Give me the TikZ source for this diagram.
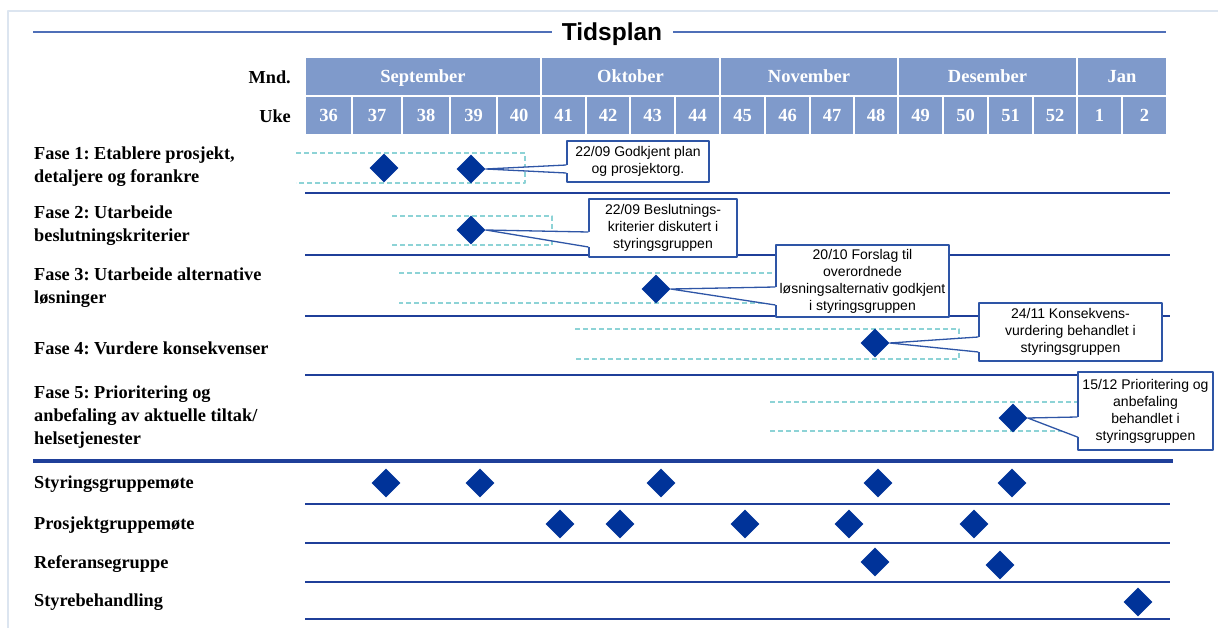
\documentclass[tikz,border=0pt]{standalone}
\usepackage{fontspec}
\setmainfont{Liberation Serif}
\newfontfamily\notefont{Liberation Sans}
\usetikzlibrary{shapes.geometric,calc,positioning}
\frenchspacing

\definecolor{hdrblue}{HTML}{7F9ACB}
\definecolor{diablue}{HTML}{003399}
\definecolor{rowline}{HTML}{1F3F99}
\definecolor{boxblue}{HTML}{2E55A6}
\definecolor{dashteal}{HTML}{8DD3D6}
\definecolor{framegray}{HTML}{DCE5F0}
\definecolor{titleline}{HTML}{4F6FB8}

\begin{document}
\begin{tikzpicture}[
    line join=round, x=1pt, y=-1pt,
    hdr/.style={fill=hdrblue, text=white, font=\bfseries\fontsize{18.5}{18.5}\selectfont, inner sep=0pt,
        minimum height=37pt, text height=12.5pt, text depth=0pt},
    rowlbl/.style={anchor=west, align=left, font=\bfseries\fontsize{18.3}{23}\selectfont, inner sep=0pt},
    mstone/.style={diamond, fill=diablue, minimum width=29pt, minimum height=29pt, inner sep=0pt},
    callbox/.style={draw=boxblue, line width=1.3pt, fill=white, align=center, font=\notefont\fontsize{14}{17}\selectfont, inner sep=2pt},
    spanbox/.style={draw=dashteal, line width=1.1pt, dash pattern=on 5pt off 3pt},
    rowsep/.style={draw=rowline, line width=1.4pt}
  ]
  % ---- helpers ----
  \newcommand{\pointer}[4]{% milestone, box, upper offset, lower offset
    \fill[white] (#1.east) -- ($(#2.west)+(1.6,#3)$) -- ($(#2.west)+(1.6,#4)$) -- cycle;
    \draw[boxblue, line width=1.3pt] ($(#2.west)+(0,#3)$) -- (#1.east) -- ($(#2.west)+(0,#4)$);
  }

  \useasboundingbox (0,0) rectangle (1218,628);
  \draw[framegray, line width=2pt] (8,11) rectangle (1240,650);

  %==================== TITLE ====================
  \node[font=\notefont\bfseries\fontsize{24.5}{24.5}\selectfont, inner sep=0pt] (title) at (612,34) {Tidsplan};
  \draw[titleline, line width=1.5pt] (33,32) -- (552,32);
  \draw[titleline, line width=1.5pt] (673,32) -- (1166,32);

  %==================== HEADER ====================
  \node[rowlbl, anchor=east] (mnd) at (291,77) {Mnd.};
  \node[rowlbl, anchor=east] (uke) at (291,116) {Uke};

  \foreach \a/\b/\m in {305/541/September, 541/720/Oktober, 720/898/November, 898/1077/Desember, 1077/1167/Jan} {
      \pgfmathsetmacro\cw{\b-\a-2}
      \node[hdr, minimum width=\cw pt] (m\m) at ({(\a+\b)/2},76.5) {\m};
    }

  \foreach \a/\b/\w in {305/352/36, 352/402/37, 402/450/38, 450/497/39, 497/541/40,
      541/586/41, 586/630/42, 630/675/43, 675/720/44, 720/765/45, 765/810/46,
      810/854/47, 854/898/48, 898/943/49, 943/988/50, 988/1033/51, 1033/1077/52,
      1077/1122/1, 1122/1167/2} {
      \pgfmathsetmacro\cw{\b-\a-2}
      \node[hdr, minimum width=\cw pt] (w\w) at ({(\a+\b)/2},115.5) {\w};
    }

  %==================== PHASES ====================
  \node[rowlbl] (f1) at (34,167) {Fase 1: Etablere prosjekt,\\detaljere og forankre};
  \node[rowlbl] (f2) at (34,226) {Fase 2: Utarbeide\\beslutningskriterier};
  \node[rowlbl] (f3) at (34,287.5) {Fase 3: Utarbeide alternative\\løsninger};
  \node[rowlbl] (f4) at (34,348) {Fase 4: Vurdere konsekvenser};
  \node[rowlbl] (f5) at (34,417.5) {Fase 5: Prioritering og\\anbefaling av aktuelle tiltak/\\helsetjenester};

  % dashed spans (left, right, top, bottom)
  \foreach \l/\r/\t/\b in {296/525/153/183, 392/552/216/245, 399/790/273/303, 575/959/329/359, 770/1090/402/431} {
      \draw[spanbox] (\l,\t) -- (\r,\t) -- (\r,\b) -- (\l,\b);
    }

  % row separators
  \foreach \y in {193,255,316,375} {
      \draw[rowsep] (305,\y) -- (1170,\y);
    }

  % milestones
  \node[mstone] (p1a) at (384,168) {};
  \node[mstone] (p1b) at (471,169) {};
  \node[mstone] (p2) at (471,230) {};
  \node[mstone] (p3) at (656,289) {};
  \node[mstone] (p4) at (875,343) {};
  \node[mstone] (p5) at (1013,418) {};

  % callouts
  \node[callbox, minimum width=142pt, minimum height=41pt] (b1) at (638,161.5) {22/09 Godkjent plan\\og prosjektorg.};
  \node[callbox, minimum width=148pt, minimum height=58pt] (b2) at (663,228) {22/09 Beslutnings-\\kriterier diskutert i\\styringsgruppen};
  \node[callbox, minimum width=173pt, minimum height=72pt] (b3) at (862.5,281) {20/10 Forslag til\\overordnede\\løsningsalternativ godkjent\\i styringsgruppen};
  \node[callbox, minimum width=183pt, minimum height=58pt] (b4) at (1070.5,332) {24/11 Konsekvens-\\vurdering behandlet i\\styringsgruppen};
  \node[callbox, minimum width=135pt, minimum height=78pt] (b5) at (1145.5,411) {15/12 Prioritering og\\anbefaling\\behandlet i\\styringsgruppen};

  \pointer{p1b}{b1}{3.5}{11.5}
  \pointer{p2}{b2}{4}{19}
  \pointer{p3}{b3}{6}{24}
  \pointer{p4}{b4}{5}{20}
  \pointer{p5}{b5}{6}{26}

  %==================== MEETINGS ====================
  \draw[draw=rowline, line width=4pt] (33,461) -- (1173,461);
  \foreach \y in {504,543,582,619} {
      \draw[rowsep] (305,\y) -- (1170,\y);
    }

  \node[rowlbl] (g1) at (34,484) {Styringsgruppemøte};
  \node[rowlbl] (g2) at (34,525) {Prosjektgruppemøte};
  \node[rowlbl] (g3) at (34,564) {Referansegruppe};
  \node[rowlbl] (g4) at (34,602) {Styrebehandling};

  \foreach \x [count=\i] in {386,480,661,878,1012} {
      \node[mstone] (s\i) at (\x,483) {};
    }
  \foreach \x [count=\i] in {560,620,745,849,974} {
      \node[mstone] (q\i) at (\x,524) {};
    }
  \node[mstone] (r1) at (875,562) {};
  \node[mstone] (r2) at (1000,565) {};
  \node[mstone] (t1) at (1138,602) {};

\end{tikzpicture}
\end{document}
